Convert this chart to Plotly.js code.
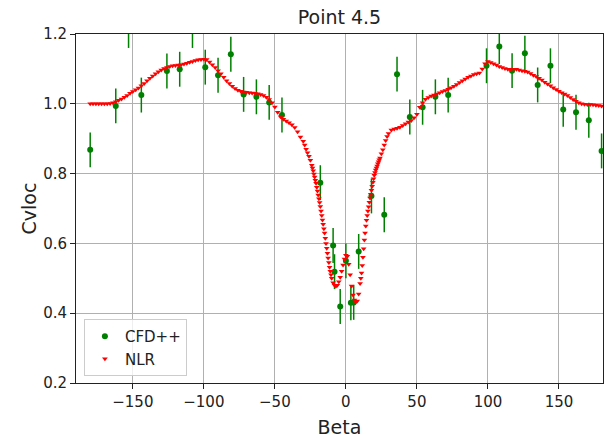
<!DOCTYPE html>
<html>
<head>
<meta charset="utf-8">
<script src="https://cdn.plot.ly/plotly-3.0.1.min.js"></script>
<style>html,body{margin:0;padding:0;background:#fff}#chart{width:605px;height:439px}</style>
</head>
<body>
<div id="chart"></div>
<script>
// CFD++ reference points (Beta, Cvloc), error +/- 0.05
const cfdBeta = [-180, -162, -153, -144, -126, -117, -108, -99, -90, -81, -72, -63, -54, -45,
  -18, -9, -8, -4, 0, 3.5, 5.5, 9, 18, 27, 36, 45, 54, 63, 72,
  99, 108, 117, 126, 135, 144, 153, 162, 171, 180];
const cfdCvloc = [0.868, 0.994, 1.21, 1.025, 1.094, 1.099, 1.21, 1.105, 1.082, 1.142, 1.027, 1.02, 1.004, 0.968,
  0.774, 0.594, 0.519, 0.419, 0.55, 0.43, 0.431, 0.577, 0.736, 0.682, 1.085, 0.962, 0.99, 1.02, 1.025,
  1.109, 1.164, 1.095, 1.145, 1.054, 1.109, 0.984, 0.976, 0.953, 0.865];
const cfdErr = [0.05, 0.05, 0.05, 0.05, 0.05, 0.05, 0.05, 0.05, 0.05, 0.05, 0.05, 0.05, 0.05, 0.05,
  0.05, 0.05, 0.05, 0.05, 0.05, 0.05, 0.05, 0.05, 0.05, 0.05, 0.05, 0.05, 0.05, 0.05, 0.05,
  0.05, 0.05, 0.05, 0.05, 0.05, 0.05, 0.05, 0.05, 0.05, 0.05];

// NLR curve
const nlrBeta = [
  -180, -178, -176, -174, -172, -170, -168, -166, -164, -162, -160, -158, -156, -154, -152, -150,
  -148, -146, -144, -142, -140, -138, -136, -134, -132, -130, -128, -126, -124, -122, -120, -118,
  -116, -114, -112, -110, -108, -106, -104, -102, -100, -98, -96, -94, -92, -90, -88, -86,
  -84, -82, -80, -78, -76, -74, -72, -70, -68, -66, -64, -62, -60, -58, -56, -54,
  -52, -50, -48, -46, -44, -42, -40, -38, -36, -34, -32,
  -30, -29, -28, -27, -26, -25, -24, -23.5, -23, -22.5, -22, -21.5, -21, -20.5, -20, -19.5,
  -19, -18.5, -18, -17.5, -17, -16.5, -16, -15.5, -15, -14.5, -14, -13.5, -13, -12.5, -12, -11.5,
  -11, -10.5, -10, -9, -8, -7, -6, -5, -4, -3, -2, -1, 0,
  1, 2, 3, 4, 5, 6, 7, 8, 9, 10, 10.5, 11, 11.5, 12, 12.5, 13,
  13.5, 14, 14.5, 15, 15.5, 16, 16.5, 17, 17.5, 18, 18.5, 19, 19.5, 20, 20.5, 21,
  21.5, 22, 22.5, 23, 23.5, 24, 25, 26, 27, 28, 29, 30,
  32, 34, 36, 38, 40, 42, 44, 46, 48, 50, 52, 54, 56, 58, 60, 62,
  64, 66, 68, 70, 72, 74, 76, 78, 80, 82, 84, 86, 88, 90, 92, 94,
  96, 98, 100, 102, 104, 106, 108, 110, 112, 114, 116, 118, 120, 122, 124, 126,
  128, 130, 132, 134, 136, 138, 140, 142, 144, 146, 148, 150, 152, 154, 156, 158,
  160, 162, 164, 166, 168, 170, 172, 174, 176, 178, 180];
const nlrCvloc = [
  1.000, 1.000, 1.000, 1.000, 1.000, 1.000, 1.000, 1.001, 1.003, 1.006, 1.010, 1.014, 1.019, 1.024, 1.030, 1.035,
  1.040, 1.045, 1.052, 1.058, 1.066, 1.073, 1.080, 1.086, 1.092, 1.097, 1.101, 1.104, 1.107, 1.109, 1.110, 1.111,
  1.112, 1.114, 1.116, 1.119, 1.121, 1.124, 1.126, 1.127, 1.128, 1.127, 1.120, 1.112, 1.104, 1.095, 1.086, 1.076,
  1.066, 1.058, 1.050, 1.044, 1.039, 1.036, 1.034, 1.033, 1.032, 1.031, 1.030, 1.029, 1.027, 1.024, 1.019, 1.012,
  1.003, 0.991, 0.976, 0.963, 0.956, 0.951, 0.946, 0.940, 0.932, 0.920, 0.905,
  0.893, 0.882, 0.870, 0.860, 0.850, 0.838, 0.824, 0.816, 0.808, 0.799, 0.790, 0.781, 0.772, 0.761, 0.750, 0.739,
  0.728, 0.717, 0.706, 0.693, 0.680, 0.667, 0.655, 0.642, 0.630, 0.615, 0.600, 0.586, 0.572, 0.558, 0.545, 0.532,
  0.520, 0.510, 0.500, 0.487, 0.480, 0.477, 0.480, 0.490, 0.503, 0.520, 0.538, 0.555, 0.566,
  0.563, 0.540, 0.510, 0.478, 0.452, 0.438, 0.432, 0.435, 0.455, 0.485, 0.500, 0.515, 0.537, 0.560, 0.585, 0.610,
  0.630, 0.650, 0.666, 0.680, 0.693, 0.705, 0.718, 0.730, 0.741, 0.752, 0.764, 0.775, 0.785, 0.795, 0.803, 0.810,
  0.816, 0.822, 0.828, 0.834, 0.840, 0.845, 0.857, 0.868, 0.882, 0.895, 0.906, 0.915,
  0.925, 0.928, 0.930, 0.933, 0.938, 0.943, 0.948, 0.952, 0.960, 0.970, 0.990, 1.003, 1.013, 1.018, 1.022, 1.025,
  1.028, 1.032, 1.035, 1.038, 1.042, 1.046, 1.050, 1.055, 1.061, 1.066, 1.071, 1.076, 1.080, 1.084, 1.086, 1.088,
  1.100, 1.115, 1.121, 1.118, 1.115, 1.111, 1.107, 1.104, 1.101, 1.099, 1.099, 1.099, 1.099, 1.097, 1.095, 1.093,
  1.091, 1.087, 1.082, 1.078, 1.073, 1.068, 1.062, 1.057, 1.052, 1.046, 1.041, 1.036, 1.032, 1.028, 1.024, 1.018,
  1.012, 1.007, 1.003, 1.000, 0.999, 0.998, 0.998, 0.997, 0.996, 0.995, 0.994];

const xTicks = [-150, -100, -50, 0, 50, 100, 150];
const yTicks = [0.2, 0.4, 0.6, 0.8, 1.0, 1.2];

const FONT = 'DejaVu Sans, sans-serif';

const traces = [
  {
    x: cfdBeta, y: cfdCvloc, name: 'CFD++', type: 'scatter', mode: 'markers',
    marker: {color: 'green', size: 6, symbol: 'circle'},
    error_y: {type: 'data', array: cfdErr, visible: true, color: 'green', thickness: 1.5, width: 0},
    cliponaxis: true
  },
  {
    x: nlrBeta, y: nlrCvloc, name: 'NLR', type: 'scatter', mode: 'markers',
    marker: {color: 'red', size: 5, symbol: 'triangle-down'},
    cliponaxis: true
  }
];

const axisCommon = {
  showgrid: true, gridcolor: '#b0b0b0', gridwidth: 1,
  showline: true, linecolor: '#222', linewidth: 1, mirror: true,
  ticks: 'outside', ticklen: 5, tickwidth: 1, tickcolor: '#222',
  tickfont: {family: FONT, size: 15, color: '#222'},
  zeroline: false
};

const layout = {
  width: 605, height: 439,
  margin: {l: 76, r: 2, t: 34, b: 56},
  paper_bgcolor: '#fff', plot_bgcolor: '#fff',
  showlegend: true,
  title: {text: 'Point 4.5', font: {family: FONT, size: 19, color: '#222'}, x: 0.5, xanchor: 'center', y: 0.96, yanchor: 'middle', xref: 'paper'},
  xaxis: Object.assign({}, axisCommon, {
    range: [-190, 181], tickvals: xTicks, ticktext: xTicks.map(v => v < 0 ? '\u2212' + Math.abs(v) : String(v)),
    title: {text: 'Beta', font: {family: FONT, size: 19, color: '#222'}, standoff: 10}
  }),
  yaxis: Object.assign({}, axisCommon, {
    range: [0.2, 1.2], tickvals: yTicks, ticktext: yTicks.map(v => v.toFixed(1)),
    title: {text: 'Cvloc', font: {family: FONT, size: 19, color: '#222'}, standoff: 1}
  }),
  legend: {
    x: 0.015, y: 0.02, xanchor: 'left', yanchor: 'bottom',
    bgcolor: 'rgba(255,255,255,0.8)', bordercolor: '#ccc', borderwidth: 1,
    font: {family: FONT, size: 15, color: '#222'},
    tracegroupgap: 2
  }
};

Plotly.newPlot('chart', traces, layout, {displayModeBar: false, staticPlot: true});
</script>
</body>
</html>
